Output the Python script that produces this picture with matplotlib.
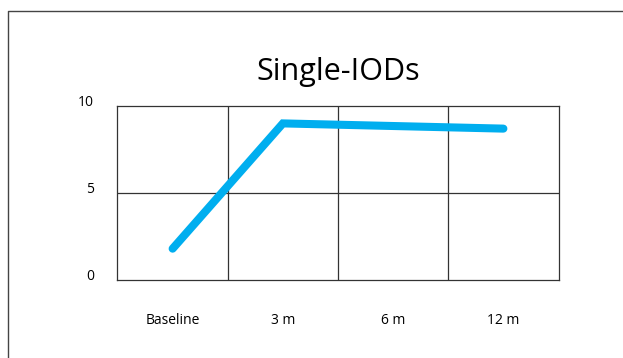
import matplotlib.pyplot as plt
from matplotlib.lines import Line2D

plt.rcParams['font.family'] = ['Open Sans', 'DejaVu Sans']

categories = ['Baseline', '3 m', '6 m', '12 m']
values = [1.8, 9.0, 8.85, 8.7]
y_ticks = [0, 5, 10]

fig = plt.figure(figsize=(6.23, 3.58), dpi=100)
ax = fig.add_axes([0.1886, 0.2179, 0.7079, 0.486])

x = [i + 0.5 for i in range(len(categories))]
ax.plot(x, values, color='#00aeef', linewidth=5.8, solid_capstyle='round',
        solid_joinstyle='miter', zorder=3)

ax.set_xlim(0, len(categories))
ax.set_ylim(0, 10)
ax.set_xticks(x)
ax.set_xticklabels(categories, fontsize=10)
ax.set_yticks(y_ticks)
ax.set_yticklabels([str(v) for v in y_ticks], fontsize=10, va='baseline')
ax.tick_params(which='both', length=0)
ax.tick_params(axis='x', pad=24)
ax.tick_params(axis='y', pad=17)
ax.grid(False)
for i in range(1, len(categories)):
    ax.axvline(i, color='#333333', linewidth=0.9, zorder=1)
ax.axhline(5, color='#333333', linewidth=0.9, zorder=1)
for s in ax.spines.values():
    s.set_color('#333333')
    s.set_linewidth(0.9)

ax.set_title('Single-IODs', fontsize=22, pad=19)

# outer frame (left and top edges only are visible)
left = 7.5 / 623
top = 1 - 10.5 / 358
fig.add_artist(Line2D([left, left, 1.1], [-0.1, top, top], transform=fig.transFigure,
                      color='#444444', linewidth=1.0))

fig.savefig('out.png', dpi=100)
